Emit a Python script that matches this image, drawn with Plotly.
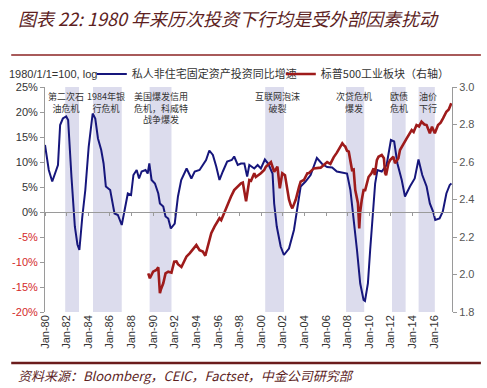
import plotly.graph_objects as go

# ---------------- data ----------------
inv_t = [1980.0, 1980.35, 1980.67, 1981.04, 1981.2, 1981.4, 1981.65, 1981.96, 1982.14, 1982.45,
         1982.76, 1983.0, 1983.18, 1983.45, 1983.73, 1984.04, 1984.41, 1984.65, 1984.9, 1985.2,
         1985.42, 1985.63, 1986.03, 1986.43, 1986.74, 1987.1, 1987.41, 1987.66, 1987.96, 1988.18,
         1988.48, 1988.7, 1988.94, 1989.3, 1989.5, 1989.65, 1989.86, 1990.17, 1990.48, 1990.63,
         1990.94, 1991.15, 1991.4, 1991.64, 1992.0, 1992.3, 1992.6, 1993.1, 1993.54, 1993.85,
         1994.3, 1994.6, 1994.9, 1995.2, 1995.53, 1995.84, 1996.14, 1996.45, 1996.85, 1997.28,
         1997.5, 1997.83, 1998.13, 1998.44, 1998.7, 1998.9, 1999.36, 1999.67, 1999.97, 2000.34,
         2000.64, 2001.05, 2001.2, 2001.44, 2001.8, 2002.1, 2002.57, 2003.03, 2003.34, 2003.65,
         2004.1, 2004.57, 2005.15, 2005.64, 2006.1, 2006.56, 2007.0, 2007.5, 2007.94, 2008.25,
         2008.55, 2008.86, 2009.16, 2009.47, 2009.6, 2009.87, 2010.08, 2010.33, 2010.54, 2010.75,
         2011.15, 2011.6, 2011.9, 2012.0, 2012.3, 2012.6, 2013.0, 2013.3, 2013.76, 2014.2,
         2014.55, 2014.9, 2015.3, 2015.6, 2015.9, 2016.1, 2016.5, 2016.8, 2017.13, 2017.44, 2017.6]
inv_yoy = [13.4, 8.4, 6.1, 8.4, 9.4, 17.4, 18.7, 19.1, 18.4, 7.0,
           -2.9, -6.5, -7.6, -1.0, 4.4, 13.0, 19.7, 18.7, 14.7, 12.4,
           9.7, 5.1, 4.4, -0.3, -0.6, -2.6, 0.7, 3.7, 3.4, 7.4,
           8.4, 6.7, 8.1, 8.4, 7.7, 9.7, 6.4, 5.7, 3.7, 1.7,
           1.1, -0.9, -1.3, -3.3, -2.3, 3.1, 6.4, 8.7, 6.7, 8.1,
           8.4, 9.4, 10.4, 12.3, 11.4, 9.1, 6.4, 8.1, 10.1, 10.4,
           11.1, 9.4, 9.7, 9.7, 7.1, 9.4, 8.7, 9.4, 8.7, 10.5,
           9.7, 7.7, 1.7, -2.9, -6.9, -8.6, -7.3, -3.6, 1.1, 5.1,
           6.1, 7.4, 10.8, 9.6, 9.0, 8.9, 8.1, 7.9, 7.7, 4.4,
           -0.9, -7.6, -14.3, -17.6, -17.8, -14.3, -7.6, 0.4, 5.7, 8.4,
           8.1, 9.4, 13.5, 14.4, 14.1, 9.7, 6.4, 3.1, 5.1, 6.7,
           10.5, 7.4, 5.1, 1.7, 0.1, -1.6, -1.3, 0.1, 3.7, 5.4, 5.7]

spx_t = [1989.55, 1989.7, 1990.0, 1990.3, 1990.48, 1990.63, 1990.72, 1990.94, 1991.15, 1991.4,
         1991.7, 1991.95, 1992.16, 1992.3, 1992.62, 1992.92, 1993.08, 1993.38, 1993.85, 1994.0,
         1994.3, 1994.6, 1994.83, 1995.22, 1995.38, 1995.68, 1996.14, 1996.3, 1996.54, 1996.9,
         1997.2, 1997.5, 1997.83, 1998.13, 1998.3, 1998.6, 1998.9, 1999.06, 1999.36, 1999.5,
         1999.97, 2000.28, 2000.43, 2000.6, 2000.9, 2001.2, 2001.5, 2001.72, 2001.95, 2002.2,
         2002.43, 2002.57, 2002.73, 2002.88, 2003.0, 2003.2, 2003.5, 2003.65, 2003.95, 2004.27,
         2004.4, 2004.87, 2005.5, 2006.1, 2006.4, 2006.7, 2007.0, 2007.33, 2007.5, 2007.63,
         2007.78, 2007.94, 2008.1, 2008.4, 2008.55, 2008.7, 2008.85, 2008.95, 2009.07, 2009.15,
         2009.3, 2009.47, 2009.62, 2009.93, 2010.2, 2010.4, 2010.5, 2010.7, 2010.85, 2011.15,
         2011.35, 2011.46, 2011.55, 2011.77, 2011.92, 2012.23, 2012.38, 2012.69, 2012.84, 2013.0,
         2013.46, 2013.92, 2014.1, 2014.37, 2014.6, 2014.83, 2015.1, 2015.3, 2015.6, 2015.8,
         2016.06, 2016.36, 2016.6, 2016.82, 2017.13, 2017.35, 2017.58]
spx_log = [2.006, 1.98, 2.015, 2.024, 2.038, 1.90, 1.92, 1.953, 2.006, 2.015,
           2.01, 2.068, 2.07, 2.055, 2.04, 2.077, 2.095, 2.113, 2.148, 2.157,
           2.13, 2.122, 2.10, 2.193, 2.22, 2.255, 2.30, 2.29, 2.326, 2.37,
           2.415, 2.45, 2.47, 2.486, 2.49, 2.39, 2.504, 2.50, 2.54, 2.52,
           2.54, 2.557, 2.575, 2.584, 2.60, 2.548, 2.575, 2.46, 2.54, 2.53,
           2.433, 2.40, 2.37, 2.353, 2.37, 2.40, 2.468, 2.495, 2.504, 2.54,
           2.54, 2.566, 2.57, 2.60, 2.59, 2.625, 2.65, 2.682, 2.70, 2.69,
           2.682, 2.66, 2.655, 2.557, 2.56, 2.45, 2.40, 2.38, 2.246, 2.33,
           2.397, 2.45, 2.45, 2.52, 2.54, 2.566, 2.53, 2.61, 2.628, 2.637,
           2.62, 2.54, 2.53, 2.593, 2.61, 2.628, 2.593, 2.62, 2.664, 2.682,
           2.726, 2.77, 2.76, 2.797, 2.79, 2.815, 2.80, 2.797, 2.753, 2.788,
           2.753, 2.797, 2.81, 2.833, 2.868, 2.88, 2.913]

crisis_start = [1981.87, 1984.44, 1989.68, 2000.37, 2007.85, 2012.1, 2014.56]
crisis_end = [1983.15, 1987.1, 1991.7, 2002.11, 2009.53, 2013.36, 2016.06]
crisis_label = ["第二次石<br>油危机", "1984年银<br>行危机", "美国爆发信用<br>危机，科威特<br>战争爆发",
                "互联网泡沫<br>破裂", "次贷危机<br>爆发", "欧债<br>危机", "油价<br>下行"]
crisis_label_x = [1981.9, 1985.6, 1990.7, 2001.53, 2008.6, 2012.75, 2015.4]

x_tick_years = list(range(1980, 2017, 2))
x_tick_text = ["Jan-%02d" % (y % 100) for y in x_tick_years]
left_ticks = [-20, -15, -10, -5, 0, 5, 10, 15, 20, 25]
right_ticks = [1.8, 2.0, 2.2, 2.4, 2.6, 2.8, 3.0]

series1_name = "私人非住宅固定资产投资同比增速"
series2_name = "标普500工业板块（右轴）"
title_text = "图表 22: 1980 年来历次投资下行均是受外部因素扰动"
source_text = "资料来源：Bloomberg，CEIC，Factset，中金公司研究部"

# ---------------- figure ----------------
NAVY = "#16167c"
RED = "#9e1b1b"
BAND = "#dcdced"
TXT = "#333333"
MAROON = "#5e1f1f"
LAT = "Liberation Sans, Arial, sans-serif"
CJK = "Noto Sans CJK SC, sans-serif"

fig = go.Figure()
fig.add_trace(go.Scatter(x=inv_t, y=inv_yoy, name=series1_name, mode="lines",
                         line=dict(color=NAVY, width=2), xaxis="x", yaxis="y"))
fig.add_trace(go.Scatter(x=spx_t, y=spx_log, name=series2_name, mode="lines",
                         line=dict(color=RED, width=2.6), xaxis="x2", yaxis="y2"))

xr = [1980.0, 2017.65]

shapes = []
for a, b in zip(crisis_start, crisis_end):
    shapes.append(dict(type="rect", xref="x", yref="paper", x0=a, x1=b, y0=0, y1=1,
                       fillcolor=BAND, line=dict(width=0), layer="below"))
# decorative header / footer rules
shapes.append(dict(type="line", xref="paper", yref="paper", x0=-0.083, x1=1.071, y0=1.142, y1=1.142,
                   line=dict(color="#8b2323", width=1.5)))
shapes.append(dict(type="line", xref="paper", yref="paper", x0=-0.083, x1=1.071, y0=-0.227, y1=-0.227,
                   line=dict(color="#6b1c1c", width=2.5)))

annotations = []
for lx, lt in zip(crisis_label_x, crisis_label):
    annotations.append(dict(x=lx, y=0.997, xref="x", yref="paper", text=lt, showarrow=False,
                            xanchor="center", yanchor="top", align="center",
                            font=dict(family=CJK, size=9, color=TXT)))
annotations.append(dict(x=-0.093, y=1.058, xref="paper", yref="paper", text="1980/1/1=100, log",
                        showarrow=False, xanchor="left", yanchor="middle",
                        font=dict(family=LAT, size=11, color=TXT)))
annotations.append(dict(x=-0.072, y=1.307, xref="paper", yref="paper", text=title_text,
                        showarrow=False, xanchor="left", yanchor="middle",
                        font=dict(family=CJK, size=18, color=MAROON, style="italic")))
annotations.append(dict(x=-0.072, y=-0.284, xref="paper", yref="paper", text=source_text,
                        showarrow=False, xanchor="left", yanchor="middle",
                        font=dict(family=CJK, size=13, color=MAROON, style="italic")))

left_text = []
for v in left_ticks:
    s = "%d%%" % v
    if v < 0:
        s = '<span style="color:#d42a2a">%s</span>' % s
    left_text.append(s)

fig.update_layout(
    width=487, height=388,
    margin=dict(l=43, r=35, t=87, b=76),
    paper_bgcolor="white", plot_bgcolor="white",
    showlegend=True,
    legend=dict(orientation="h", x=0.115, y=1.058, xanchor="left", yanchor="middle",
                font=dict(family=CJK, size=11, color=TXT), itemwidth=30,
                entrywidth=144, entrywidthmode="pixels", bgcolor="rgba(0,0,0,0)",
                tracegroupgap=0),
    xaxis=dict(range=xr, tickmode="array", tickvals=x_tick_years, ticktext=x_tick_text,
               tickangle=-90, showgrid=False, zeroline=False, showline=False, ticks="",
               tickfont=dict(family=LAT, size=11, color=TXT)),
    xaxis2=dict(range=xr, overlaying="x", matches="x", anchor="free", position=20 / 45,
                tickmode="array", tickvals=x_tick_years, showticklabels=False,
                showgrid=False, zeroline=False, showline=True, linecolor="#9a9a9a", linewidth=1,
                ticks="outside", ticklen=3, tickcolor="#9a9a9a"),
    yaxis=dict(range=[-20, 25], tickmode="array", tickvals=left_ticks, ticktext=left_text,
               showgrid=False, zeroline=False, showline=True, linecolor="#9a9a9a", linewidth=1,
               ticks="outside", ticklen=4, tickcolor="#9a9a9a",
               tickfont=dict(family=LAT, size=11, color=TXT)),
    yaxis2=dict(range=[1.8, 3.0], overlaying="y", side="right", anchor="x",
                tickmode="array", tickvals=right_ticks, ticktext=["%.1f" % v for v in right_ticks],
                showgrid=False, zeroline=False, showline=True, linecolor="#9a9a9a", linewidth=1,
                ticks="outside", ticklen=4, tickcolor="#9a9a9a",
                tickfont=dict(family=LAT, size=11, color="#555555")),
    shapes=shapes,
    annotations=annotations,
)

fig.write_html("out.html", config={"displayModeBar": False},
               post_script="document.body.style.margin='0px';")
